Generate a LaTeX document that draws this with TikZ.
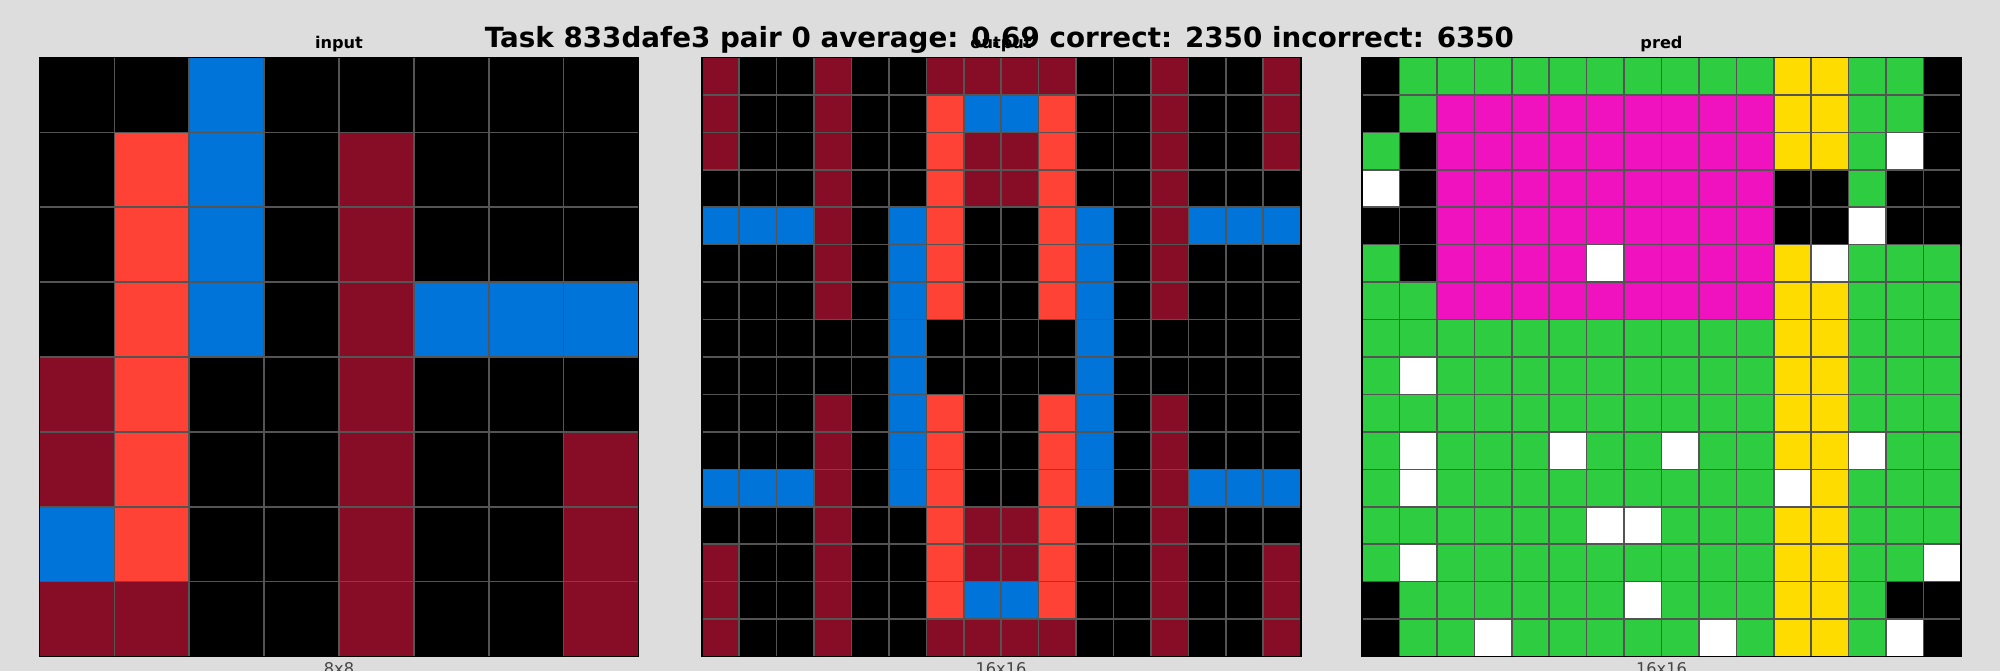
\documentclass[tikz,border=0pt]{standalone}
\usepackage{fontspec}
\setmainfont{DejaVu Sans}
\usepackage{tikz}
\usetikzlibrary{positioning}
\definecolor{bgcol}{HTML}{DDDDDD}
\definecolor{arcK}{HTML}{000000}
\definecolor{arcB}{HTML}{0074D9}
\definecolor{arcR}{HTML}{FF4136}
\definecolor{arcG}{HTML}{2ECC40}
\definecolor{arcY}{HTML}{FFDC00}
\definecolor{arcP}{HTML}{F012BE}
\definecolor{arcM}{HTML}{870C25}
\definecolor{arcW}{HTML}{FFFFFF}
\definecolor{sizecol}{HTML}{444444}

% one ARC grid: left x, cell size, n, rows
\newcommand{\arcgrid}[4]{%
  \begin{scope}[shift={(#1,-0.575)}]
    \foreach \row [count=\r from 0] in {#4} {
      \foreach \cl [count=\x from 0] in \row {
        \fill[arc\cl] (\x*#2,-\r*#2) rectangle ++(#2,-#2);
      }
    }
    \foreach \i in {1,...,\numexpr#3-1\relax} {
      \draw[gridline] (\i*#2,0) -- (\i*#2,-#3*#2);
      \draw[gridline] (0,-\i*#2) -- (#3*#2,-\i*#2);
    }
    \draw[gridborder] (0,0) rectangle (#3*#2,-#3*#2);
  \end{scope}}

\begin{document}
\begin{tikzpicture}[
  gridline/.style={draw=black!67, line width=0.45pt},
  gridborder/.style={draw=black, line width=0.5pt},
  suptitle/.style={font=\fontsize{7.9}{9}\selectfont\bfseries, inner sep=0pt, anchor=base},
  paneltitle/.style={font=\fontsize{4.6}{5.5}\selectfont\bfseries, inner sep=0pt, anchor=base},
  sizelabel/.style={font=\fontsize{4.6}{5.5}\selectfont, text=sizecol, inner sep=0pt, anchor=north}
]
\fill[bgcol] (0,0) rectangle (20,-6.71);
\useasboundingbox (0,0) rectangle (20,-6.71);
% input 8x8
\arcgrid{0.395}{0.74875}{8}{
  {K,K,B,K,K,K,K,K},{K,R,B,K,M,K,K,K},{K,R,B,K,M,K,K,K},{K,R,B,K,M,B,B,B},
  {M,R,K,K,M,K,K,K},{M,R,K,K,M,K,K,M},{B,R,K,K,M,K,K,M},{M,M,K,K,M,K,K,M}}
% output 16x16
\arcgrid{7.017}{0.374375}{16}{
  {M,K,K,M,K,K,M,M,M,M,K,K,M,K,K,M},{M,K,K,M,K,K,R,B,B,R,K,K,M,K,K,M},
  {M,K,K,M,K,K,R,M,M,R,K,K,M,K,K,M},{K,K,K,M,K,K,R,M,M,R,K,K,M,K,K,K},
  {B,B,B,M,K,B,R,K,K,R,B,K,M,B,B,B},{K,K,K,M,K,B,R,K,K,R,B,K,M,K,K,K},
  {K,K,K,M,K,B,R,K,K,R,B,K,M,K,K,K},{K,K,K,K,K,B,K,K,K,K,B,K,K,K,K,K},
  {K,K,K,K,K,B,K,K,K,K,B,K,K,K,K,K},{K,K,K,M,K,B,R,K,K,R,B,K,M,K,K,K},
  {K,K,K,M,K,B,R,K,K,R,B,K,M,K,K,K},{B,B,B,M,K,B,R,K,K,R,B,K,M,B,B,B},
  {K,K,K,M,K,K,R,M,M,R,K,K,M,K,K,K},{M,K,K,M,K,K,R,M,M,R,K,K,M,K,K,M},
  {M,K,K,M,K,K,R,B,B,R,K,K,M,K,K,M},{M,K,K,M,K,K,M,M,M,M,K,K,M,K,K,M}}
% pred 16x16
\arcgrid{13.62}{0.374375}{16}{
  {K,G,G,G,G,G,G,G,G,G,G,Y,Y,G,G,K},{K,G,P,P,P,P,P,P,P,P,P,Y,Y,G,G,K},
  {G,K,P,P,P,P,P,P,P,P,P,Y,Y,G,W,K},{W,K,P,P,P,P,P,P,P,P,P,K,K,G,K,K},
  {K,K,P,P,P,P,P,P,P,P,P,K,K,W,K,K},{G,K,P,P,P,P,W,P,P,P,P,Y,W,G,G,G},
  {G,G,P,P,P,P,P,P,P,P,P,Y,Y,G,G,G},{G,G,G,G,G,G,G,G,G,G,G,Y,Y,G,G,G},
  {G,W,G,G,G,G,G,G,G,G,G,Y,Y,G,G,G},{G,G,G,G,G,G,G,G,G,G,G,Y,Y,G,G,G},
  {G,W,G,G,G,W,G,G,W,G,G,Y,Y,W,G,G},{G,W,G,G,G,G,G,G,G,G,G,W,Y,G,G,G},
  {G,G,G,G,G,G,W,W,G,G,G,Y,Y,G,G,G},{G,W,G,G,G,G,G,G,G,G,G,Y,Y,G,G,W},
  {K,G,G,G,G,G,G,W,G,G,G,Y,Y,G,K,K},{K,G,G,W,G,G,G,G,G,W,G,Y,Y,G,W,K}}
% panel titles and sizes
\node[paneltitle] (intitle) at (3.39,-0.49) {input};
\node[paneltitle] (outtitle) at (10.01,-0.49) {output};
\node[paneltitle] (predtitle) at (16.615,-0.49) {pred};
\node[sizelabel] (insize) at (3.39,-6.62) {8x8};
\node[sizelabel] (outsize) at (10.01,-6.62) {16x16};
\node[sizelabel] (predsize) at (16.615,-6.62) {16x16};
\node[suptitle] (title) at (9.994,-0.48) {Task 833dafe3 pair 0 average: 0.69 correct: 2350 incorrect: 6350};
\end{tikzpicture}
\end{document}
